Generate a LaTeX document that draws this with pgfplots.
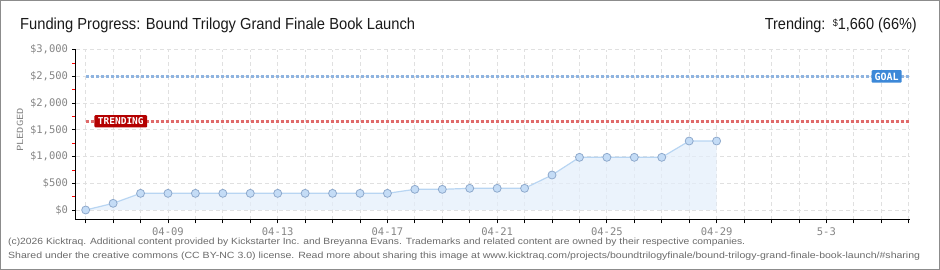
\documentclass[border=0pt]{standalone}
\usepackage{fontspec}
\setmainfont{Liberation Sans}
\setmonofont{DejaVu Sans Mono}
\usepackage{graphicx}
\usepackage{pgfplots}
\usepackage{pgfplotstable}
\pgfplotsset{compat=1.18}
\definecolor{tickgray}{HTML}{858585}
\definecolor{gridgray}{HTML}{E0E0E0}
\definecolor{goalblue}{HTML}{8FB4E0}
\definecolor{trendred}{HTML}{E06A6A}
\definecolor{goalbox}{HTML}{3C88D8}
\definecolor{trendbox}{HTML}{B40000}
\definecolor{areafill}{HTML}{E3EEFB}
\definecolor{lineblue}{HTML}{B8D5F2}
\definecolor{markfill}{HTML}{C4DCF6}
\definecolor{markdraw}{HTML}{8EA9CC}
\definecolor{titlecol}{HTML}{1A1A1A}
\definecolor{footcol}{HTML}{6A6A6A}

\pgfplotstableread{
day pledged
0 0
1 125
2 312
3 312
4 312
5 312
6 312
7 312
8 312
9 312
10 312
11 312
12 387
13 387
14 406
15 406
16 406
17 655
18 986
19 986
20 986
21 986
22 1291
23 1291
}\pledgedtable

\begin{document}
\begin{tikzpicture}
\useasboundingbox (0,0) rectangle (940pt,270pt);
\draw[color=gray!90, line width=1pt] (0.5pt,0.5pt) rectangle (939.5pt,269.5pt);

% title
\node[anchor=base west, inner sep=0pt, text=titlecol] at (20pt,240pt)
  {\resizebox{395pt}{\height}{\fontsize{16}{18}\selectfont Funding Progress: Bound Trilogy Grand Finale Book Launch}};
\node[anchor=base east, inner sep=0pt, text=titlecol] at (917pt,240pt)
  {\resizebox{152pt}{\height}{\fontsize{16}{18}\selectfont Trending:\enspace\raisebox{0.45ex}{\fontsize{10}{10}\selectfont\$}1,660 (66\%)}};

% y label
\node[rotate=90, text=tickgray, inner sep=0pt] at (20pt,140pt)
  {\resizebox{44pt}{\height}{\ttfamily\fontsize{8.5}{9}\selectfont PLEDGED}};

% footer
\node[anchor=base west, inner sep=0pt, text=footcol] at (8pt,25pt)
  {\resizebox{737pt}{\height}{\fontsize{9}{10}\selectfont (c)2026 Kicktraq. Additional content provided by Kickstarter Inc. and Breyanna Evans. Trademarks and related content are owned by their respective companies.}};
\node[anchor=base west, inner sep=0pt, text=footcol] at (8pt,11pt)
  {\resizebox{912pt}{\height}{\fontsize{9}{10}\selectfont Shared under the creative commons (CC BY-NC 3.0) license. Read more about sharing this image at www.kicktraq.com/projects/boundtrilogyfinale/bound-trilogy-grand-finale-book-launch/\#sharing}};

\begin{axis}[
  at={(76pt,50pt)}, anchor=south west,
  scale only axis, width=834pt, height=170.3pt,
  xmin=-0.353, xmax=30.05, ymin=-187, ymax=3000,
  axis lines*=left,
  axis line style={black, line width=1pt},
  xtick={0,...,30},
  xticklabels={,,,04-09,,,,04-13,,,,04-17,,,,04-21,,,,04-25,,,,04-29,,,,5-3,,,},
  ytick={0,500,...,3000},
  yticklabels={\$0,\$500,{\$1,000},{\$1,500},{\$2,000},{\$2,500},{\$3,000}},
  minor ytick={250,750,...,2750},
  tick align=outside,
  major tick length=3.5pt,
  minor tick length=3.5pt,
  tick style={black, line width=0.8pt},
  minor y tick style={red, line width=0.8pt},
  grid=major,
  major grid style={gridgray, line width=0.8pt, dash pattern=on 4pt off 3pt},
  ticklabel style={font=\ttfamily\fontsize{10.5}{11}\selectfont, text=tickgray},
  xticklabel style={yshift=-0.5pt},
  yticklabel style={xshift=-1pt},
  clip=false,
]
\addplot[fill=areafill, fill opacity=0.7, draw=none, forget plot] table[x=day,y=pledged] {\pledgedtable} \closedcycle;
\addplot[goalblue, line width=2.6pt, dash pattern=on 3pt off 2pt] coordinates {(0,2500) (30.05,2500)};
\addplot[trendred, line width=2.6pt, dash pattern=on 3pt off 2pt] coordinates {(0,1660) (30.05,1660)};
\addplot[color=lineblue, line width=1.2pt, mark=*, mark size=4pt,
  mark options={fill=markfill, draw=markdraw, line width=0.8pt}] table[x=day,y=pledged] {\pledgedtable};
\node[fill=goalbox, text=white, inner xsep=3pt, inner ysep=2.5pt, rounded corners=1pt,
  font=\ttfamily\bfseries\fontsize{10}{10}\selectfont] at (axis cs:29.2,2500) {GOAL};
\node[fill=trendbox, text=white, inner xsep=3.5pt, inner ysep=2.5pt, rounded corners=1pt,
  font=\ttfamily\bfseries\fontsize{9.5}{10}\selectfont] at (axis cs:1.28,1660) {TRENDING};
\end{axis}
\end{tikzpicture}
\end{document}
